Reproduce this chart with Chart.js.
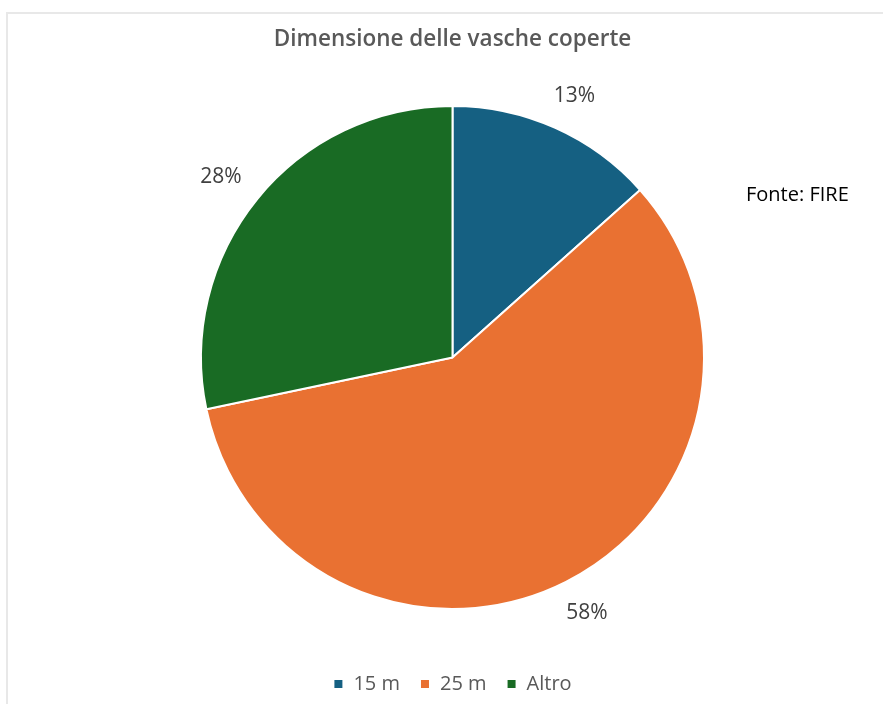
<!DOCTYPE html>
<html>
<head>
<meta charset="utf-8">
<script src="https://cdn.jsdelivr.net/npm/chart.js@4.4.1/dist/chart.umd.min.js"></script>
<style>
  html, body { margin: 0; padding: 0; background: #ffffff; overflow: hidden; }
  #wrap { position: relative; width: 883px; height: 704px; }
  #frame { position: absolute; left: 6px; top: 12px; width: 900px; height: 720px;
           border-left: 2px solid #e8e8e8; border-top: 2px solid #e8e8e8; box-sizing: border-box; }
  #c { position: absolute; left: 0; top: 0; }
  #src { position: absolute; left: 746px; top: 180px; font-family: "Open Sans", sans-serif;
         font-size: 20px; color: #000000; white-space: nowrap; }
</style>
</head>
<body>
<div id="wrap">
  <div id="frame"></div>
  <canvas id="c" width="883" height="704"></canvas>
  <div id="src">Fonte: FIRE</div>
</div>
<script>
const chartTitle = "Dimensione delle vasche coperte";
const categories = ["15 m", "25 m", "Altro"];
const shares = [13.4, 58.3, 28.3];
const sliceColors = ["#156082", "#E97132", "#196B24"];

const FONT = "'Open Sans', sans-serif";

const outsideLabels = {
  id: 'outsideLabels',
  afterDatasetsDraw(chart) {
    const ctx = chart.ctx;
    const meta = chart.getDatasetMeta(0);
    const data = chart.data.datasets[0].data;
    const total = data.reduce((a, b) => a + b, 0);
    ctx.save();
    ctx.font = "21px " + FONT;
    ctx.fillStyle = "#404040";
    ctx.textAlign = "center";
    ctx.textBaseline = "middle";
    meta.data.forEach((arc, i) => {
      const p = arc.getProps(['x', 'y', 'startAngle', 'endAngle', 'outerRadius'], true);
      const mid = (p.startAngle + p.endAngle) / 2;
      const txt = Math.round(data[i] / total * 100) + "%";
      const w = ctx.measureText(txt).width;
      const h = 18;
      const gap = 26;
      const cx = p.x + Math.cos(mid) * (p.outerRadius + gap) + Math.cos(mid) * w / 2;
      const cy = p.y + Math.sin(mid) * (p.outerRadius + gap) + Math.sin(mid) * h / 2;
      ctx.fillText(txt, cx, cy);
    });
    ctx.restore();
  }
};

new Chart(document.getElementById('c'), {
  type: 'pie',
  data: {
    labels: categories,
    datasets: [{
      data: shares,
      backgroundColor: sliceColors,
      borderColor: "#ffffff",
      borderWidth: 2
    }]
  },
  options: {
    responsive: false,
    animation: false,
    layout: { padding: { left: 200, right: 178, top: 0, bottom: 0 } },
    plugins: {
      title: {
        display: true,
        text: chartTitle,
        color: "#595959",
        font: { family: FONT, size: 22.5, weight: '600' },
        padding: { top: 26.5, bottom: 51.5 }
      },
      legend: {
        display: true,
        position: 'bottom',
        title: { display: true, text: '', font: { size: 10 }, padding: { top: 32, bottom: 0 } },
        labels: {
          color: "#595959",
          font: { family: FONT, size: 20 },
          boxWidth: 10,
          boxHeight: 10,
          padding: 20
        }
      },
      tooltip: { enabled: false }
    }
  },
  plugins: [outsideLabels]
});
</script>
</body>
</html>
